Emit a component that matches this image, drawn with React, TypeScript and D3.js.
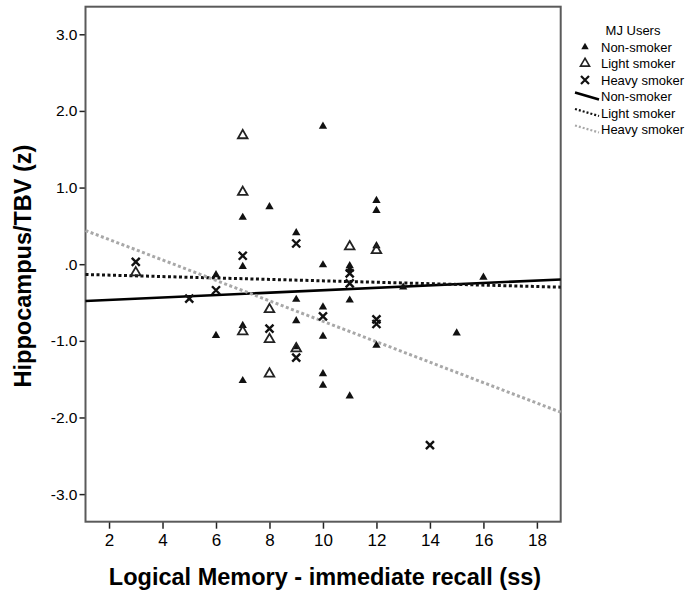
import React, { useEffect, useRef } from "react";
import * as d3 from "d3";

// MJ users, hippocampus/TBV (z) vs logical memory recall (ss)
const nonSmoker = [
  [10, 1.8], [8, 0.75], [7, 0.61], [12, 0.83], [12, 0.7], [9, 0.41], [12, 0.24],
  [7, -0.03], [10, -0.01], [11, -0.02], [11, -0.07], [6, -0.14], [16, -0.17],
  [13, -0.3], [9, -0.46], [11, -0.47], [10, -0.56], [9, -0.74], [7, -0.8],
  [6, -0.93], [10, -0.94], [15, -0.9], [12, -1.06], [10, -1.43], [7, -1.52],
  [10, -1.58], [11, -1.72], [9, -1.08],
];
const lightSmoker = [
  [7, 1.68], [7, 0.94], [11, 0.23], [12, 0.18], [3, -0.11], [8, -0.59],
  [7, -0.88], [8, -0.98], [9, -1.1], [8, -1.43],
];
const heavySmoker = [
  [9, 0.27], [7, 0.11], [3, 0.03], [11, -0.12], [11, -0.25], [6, -0.34],
  [5, -0.45], [10, -0.68], [12, -0.72], [12, -0.78], [8, -0.84], [9, -1.22],
  [14, -2.36],
];

const groupNames = ["Non-smoker", "Light smoker", "Heavy smoker"];
// fit lines: y = a + b * x
const fitIntercepts = [-0.498, -0.124, 0.589];
const fitSlopes = [0.0158, -0.0093, -0.1334];

const xTicks = [2, 4, 6, 8, 10, 12, 14, 16, 18];
const yTicks = [-3, -2, -1, 0, 1, 2, 3];
const xDomain = [1.12, 18.89];
const yDomain = [-3.36, 3.36];

const lineStyles = [
  { color: "#000", dash: null, width: 2.6 },
  { color: "#111", dash: "3,2.5", width: 3 },
  { color: "#a8a8a8", dash: "3,2.5", width: 3 },
];

const triPath = (size) => d3.symbol(d3.symbolTriangle, size)();
const crossPath = "M-4,-4L4,4M-4,4L4,-4";
const fmtY = (d) => (d === 0 ? ".0" : (d < 0 ? "-" : "") + Math.abs(d).toFixed(1));

const App = () => {
  const svgRef = useRef(null);

  useEffect(() => {
    const width = 700;
    const height = 590;
    const left = 85.5;
    const right = 560.7;
    const top = 6.7;
    const bottom = 521.7;
    const font = "Liberation Sans, Arial, sans-serif";

    const svg = d3.select(svgRef.current);
    svg.selectAll("*").remove();
    svg.attr("width", width).attr("height", height);

    const x = d3.scaleLinear().domain(xDomain).range([left, right]);
    const y = d3.scaleLinear().domain(yDomain).range([bottom, top]);

    svg
      .append("rect")
      .attr("width", width)
      .attr("height", height)
      .attr("fill", "#fff");

    // axes
    const yAxis = svg
      .append("g")
      .attr("transform", `translate(${left},0)`)
      .call(
        d3.axisLeft(y).tickValues(yTicks).tickSize(6).tickPadding(2).tickFormat(fmtY)
      );
    yAxis.select(".domain").remove();
    yAxis
      .selectAll("text")
      .attr("font-family", font)
      .attr("font-size", 15.5)
      .attr("fill", "#000");
    yAxis.selectAll("line").attr("stroke", "#222").attr("stroke-width", 1.5);

    const xAxis = svg
      .append("g")
      .attr("transform", `translate(0,${bottom})`)
      .call(d3.axisBottom(x).tickValues(xTicks).tickSize(7).tickPadding(5));
    xAxis.select(".domain").remove();
    xAxis
      .selectAll("text")
      .attr("font-family", font)
      .attr("font-size", 17)
      .attr("fill", "#000");
    xAxis.selectAll("line").attr("stroke", "#222").attr("stroke-width", 1.5);

    // frame
    svg
      .append("rect")
      .attr("x", x(xDomain[0]))
      .attr("y", y(yDomain[1]))
      .attr("width", x(xDomain[1]) - x(xDomain[0]))
      .attr("height", y(yDomain[0]) - y(yDomain[1]))
      .attr("fill", "none")
      .attr("stroke", "#5a5a5a")
      .attr("stroke-width", 2);

    const plot = svg.append("g");

    // fit lines
    fitIntercepts.forEach((a, i) => {
      const b = fitSlopes[i];
      const st = lineStyles[i];
      plot
        .append("line")
        .attr("x1", x(xDomain[0]))
        .attr("y1", y(a + b * xDomain[0]))
        .attr("x2", x(xDomain[1]))
        .attr("y2", y(a + b * xDomain[1]))
        .attr("stroke", st.color)
        .attr("stroke-width", st.width)
        .attr("stroke-dasharray", st.dash);
    });

    // points
    plot
      .selectAll(".non")
      .data(nonSmoker)
      .join("path")
      .attr("class", "non")
      .attr("transform", (d) => `translate(${x(d[0])},${y(d[1])})`)
      .attr("d", triPath(30))
      .attr("fill", "#111");

    plot
      .selectAll(".light")
      .data(lightSmoker)
      .join("path")
      .attr("class", "light")
      .attr("transform", (d) => `translate(${x(d[0])},${y(d[1])})`)
      .attr("d", triPath(40))
      .attr("fill", "none")
      .attr("stroke", "#222")
      .attr("stroke-width", 1.8);

    plot
      .selectAll(".heavy")
      .data(heavySmoker)
      .join("path")
      .attr("class", "heavy")
      .attr("transform", (d) => `translate(${x(d[0])},${y(d[1])})`)
      .attr("d", crossPath)
      .attr("fill", "none")
      .attr("stroke", "#111")
      .attr("stroke-width", 2.4);

    // axis titles
    svg
      .append("text")
      .attr("x", 325)
      .attr("y", 585)
      .attr("text-anchor", "middle")
      .attr("font-family", font)
      .attr("font-weight", "bold")
      .attr("font-size", 23.5)
      .text("Logical Memory - immediate recall (ss)");

    svg
      .append("text")
      .attr("transform", `translate(31,266) rotate(-90)`)
      .attr("text-anchor", "middle")
      .attr("font-family", font)
      .attr("font-weight", "bold")
      .attr("font-size", 23.5)
      .text("Hippocampus/TBV (z)");

    // legend
    const lg = svg.append("g").attr("font-family", font);
    lg.append("text")
      .attr("x", 633)
      .attr("y", 35)
      .attr("text-anchor", "middle")
      .attr("font-size", 13)
      .text("MJ Users");

    const rowY = (i) => 47 + i * 16.5;
    const labels = [...groupNames, ...groupNames];
    lg.selectAll(".lab")
      .data(labels)
      .join("text")
      .attr("class", "lab")
      .attr("x", 601)
      .attr("y", (d, i) => rowY(i) + 4.5)
      .attr("font-size", 13)
      .text((d) => d);

    lg.append("path")
      .attr("transform", `translate(585,${rowY(0)})`)
      .attr("d", triPath(24))
      .attr("fill", "#111");
    lg.append("path")
      .attr("transform", `translate(585,${rowY(1)})`)
      .attr("d", triPath(36))
      .attr("fill", "none")
      .attr("stroke", "#222")
      .attr("stroke-width", 1.6);
    lg.append("path")
      .attr("transform", `translate(585,${rowY(2)})`)
      .attr("d", crossPath)
      .attr("fill", "none")
      .attr("stroke", "#111")
      .attr("stroke-width", 2.2);

    lineStyles.forEach((st, i) => {
      const yy = rowY(i + 3);
      lg.append("line")
        .attr("x1", 575)
        .attr("y1", yy - 4)
        .attr("x2", 599)
        .attr("y2", yy + 3)
        .attr("stroke", st.color)
        .attr("stroke-width", i === 0 ? 2.6 : 2.2)
        .attr("stroke-dasharray", st.dash ? "2,2" : null);
    });
  }, []);

  return (
    <svg
      ref={svgRef}
      style={{ position: "absolute", left: 0, top: 0, display: "block" }}
    ></svg>
  );
};

export default App;
